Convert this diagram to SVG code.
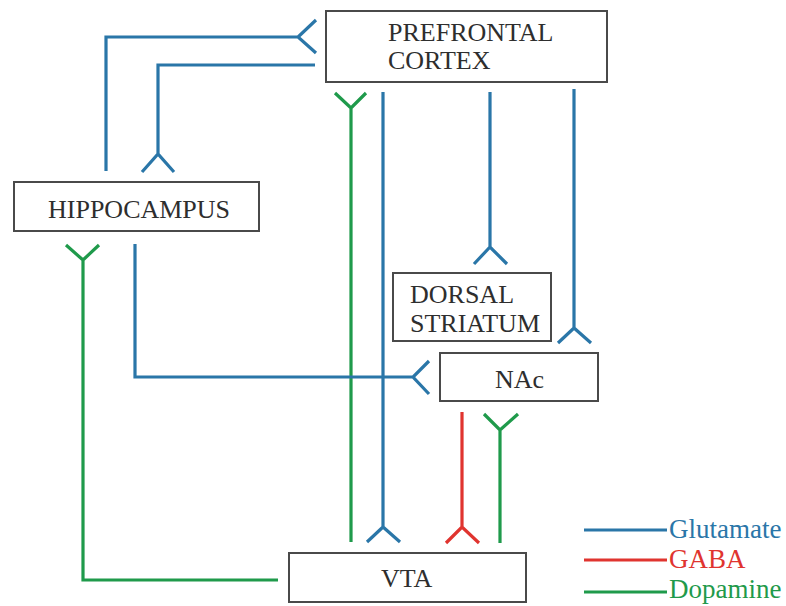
<svg xmlns="http://www.w3.org/2000/svg" width="786" height="606" viewBox="0 0 786 606">
<style>
.box{fill:#fff;stroke:#4a4a4a;stroke-width:2}
.t{font-family:"Liberation Serif","Times New Roman",serif;font-size:26px;fill:#2e2e2e}
.lg{font-size:27px}
.c{fill:none;stroke-width:3.2;stroke-linejoin:miter;stroke-linecap:butt}
.glu{stroke:#2a76a8}
.gaba{stroke:#e0342f}
.da{stroke:#1f9a4b}
</style>
<rect width="786" height="606" fill="#fff"/>
<g id="connectors">
<path class="c glu" d="M106,171 V37 H298 M316,20 L298,37 L316,53"/>
<path class="c glu" d="M315,65 H158 V154 M142,172 L158,154 L174,172"/>
<path class="c da" d="M351,542 V108 M335,93 L351,108 L366,93"/>
<path class="c glu" d="M383,92 V527 M367,542 L383,527 L400,542"/>
<path class="c glu" d="M490,92 V247 M474,264 L490,247 L507,264"/>
<path class="c glu" d="M574,89 V328 M558,343 L574,328 L591,343"/>
<path class="c glu" d="M135,244 V377 H413 M429,361 L413,377 L429,394"/>
<path class="c da" d="M278,580 H83 V260 M66,245 L83,260 L99,245"/>
<path class="c gaba" d="M462,412 V527 M446,543 L462,527 L479,543"/>
<path class="c da" d="M500,543 V430 M484,414 L500,430 L518,414"/>
</g>
<g id="pfc">
<rect class="box" x="326" y="11" width="281" height="71"/>
<text class="t" x="388" y="41">PREFRONTAL</text>
<text class="t" x="388" y="69">CORTEX</text>
</g>
<g id="hippocampus">
<rect class="box" x="14" y="182" width="245" height="49"/>
<text class="t" x="48" y="218">HIPPOCAMPUS</text>
</g>
<g id="dorsal-striatum">
<rect class="box" x="393" y="273" width="158" height="68"/>
<text class="t" x="410" y="303">DORSAL</text>
<text class="t" x="410" y="332">STRIATUM</text>
</g>
<g id="nac">
<rect class="box" x="440" y="353" width="158" height="48"/>
<text class="t" x="495" y="388">NAc</text>
</g>
<g id="vta">
<rect class="box" x="289" y="553" width="237" height="49"/>
<text class="t" x="381" y="587">VTA</text>
</g>
<g id="legend">
<line class="c glu" x1="584" y1="530" x2="667" y2="530"/>
<line class="c gaba" x1="584" y1="560" x2="667" y2="560"/>
<line class="c da" x1="584" y1="592" x2="667" y2="592"/>
<text class="t lg" x="669" y="538" style="fill:#2a76a8">Glutamate</text>
<text class="t lg" x="669" y="568" style="fill:#e0342f">GABA</text>
<text class="t lg" x="669" y="598" style="fill:#1f9a4b">Dopamine</text>
</g>
</svg>
